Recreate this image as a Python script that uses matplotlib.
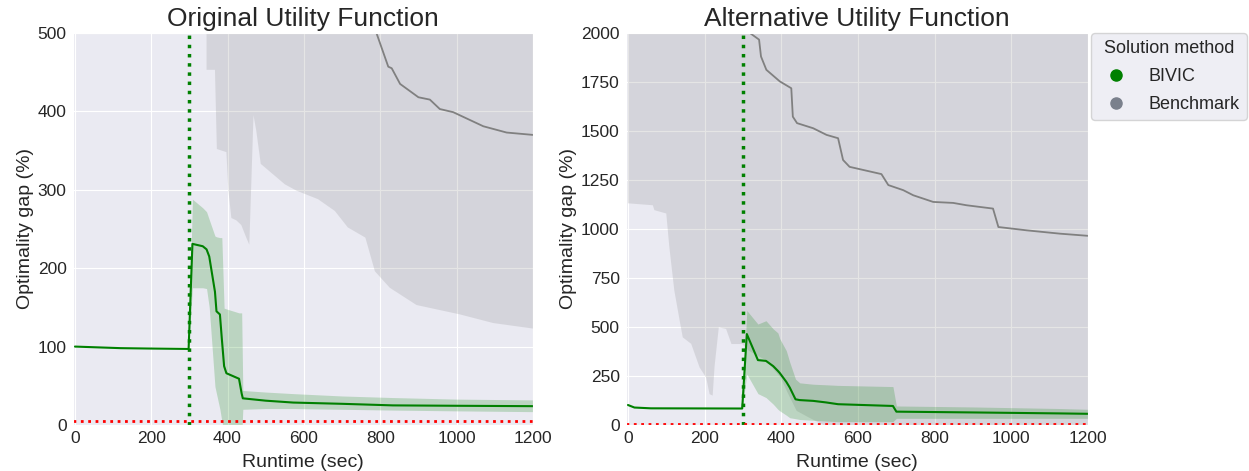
import matplotlib
matplotlib.use("Agg")
import matplotlib.pyplot as plt
from matplotlib.lines import Line2D
import seaborn as sns
import numpy as np

# ---------------- data: Original Utility Function ----------------
orig_bivic_t = [0, 60, 120, 200, 298, 308, 335, 345, 352, 367, 371, 380, 385, 391, 397, 430, 437, 440, 500, 572, 700, 833, 1000, 1200]
orig_bivic_mean = [100, 99, 98, 97.5, 97, 231, 228, 224, 215, 170, 145, 141, 110, 75, 66, 59, 40, 34, 31, 28.6, 27, 25, 24.5, 24]
orig_bivic_upper = [100, 99, 98, 97.5, 97, 288, 277, 272, 262, 241, 240, 239, 239, 149, 148, 143, 143, 44, 42, 40, 37, 35, 33, 32]
orig_bivic_lower = [100, 99, 98, 97.5, 97, 175, 175, 174, 150, 49, 40, 20, 5, -10, -15, -15, -15, 20, 21, 21, 20, 19, 18, 17]

orig_bench_band_t = [345, 367, 372, 397, 402, 410, 423, 436, 449, 457, 468, 475, 487, 550, 580, 637, 681, 715, 761, 786, 825, 895, 1009, 1096, 1200]
orig_bench_lower = [453, 453, 352, 348, 300, 264, 261, 255, 239, 230, 395, 376, 333, 307, 299, 288, 273, 252, 239, 196, 175, 153, 141, 130, 123]
orig_bench_upper = [3000, 3000, 2900, 2800, 2700, 2600, 2500, 2400, 2300, 2200, 2100, 2000, 1900, 1700, 1600, 1400, 1300, 1200, 1100, 1050, 1000, 900, 800, 700, 650]

orig_bench_t = [345, 400, 500, 600, 700, 790, 821, 830, 852, 900, 930, 956, 991, 1070, 1131, 1200]
orig_bench_mean = [1500, 1100, 800, 650, 560, 500, 457, 455, 435, 418, 415, 403, 399, 381, 373, 370]

# ---------------- data: Alternative Utility Function ----------------
alt_bivic_t = [0, 17, 60, 298, 310, 339, 360, 379, 391, 396, 413, 422, 437, 448, 483, 517, 548, 691, 700, 900, 1127, 1200]
alt_bivic_mean = [102, 89, 85, 84, 464, 331, 327, 300, 276, 265, 220, 191, 131, 127, 123, 115, 106, 97, 68, 64, 59, 57]
alt_bivic_upper = [102, 89, 85, 84, 584, 515, 532, 490, 470, 440, 379, 320, 234, 215, 208, 205, 202, 196, 97, 92, 84, 80]
alt_bivic_lower = [102, 89, 85, 84, 260, 160, 140, 106, 80, 72, 50, 37, 32, 28, 24, 20, 17, 17, 34, 34, 34, 34]

alt_bench_band_t = [0, 65, 69, 100, 108, 121, 135, 143, 165, 187, 204, 213, 221, 226, 237, 256, 270, 298, 315, 360, 398, 420, 440, 470, 510, 1200]
alt_bench_lower = [1131, 1121, 1096, 1079, 908, 686, 532, 447, 414, 293, 242, 157, 150, 300, 498, 490, 413, 413, 379, 330, 242, 150, 72, 40, 0, 0]
alt_bench_upper = [4000, 4000, 4000, 3900, 3900, 3800, 3800, 3700, 3700, 3600, 3600, 3500, 3500, 3500, 3400, 3400, 3300, 3300, 3200, 3100, 3000, 2900, 2800, 2700, 2600, 2000]

alt_bench_t = [0, 100, 200, 300, 318, 342, 347, 361, 396, 426, 430, 441, 483, 518, 548, 561, 578, 661, 679, 718, 744, 796, 848, 883, 952, 966, 1040, 1127, 1200]
alt_bench_mean = [2700, 2600, 2400, 2150, 2000, 1966, 1880, 1812, 1753, 1718, 1573, 1540, 1514, 1480, 1463, 1352, 1317, 1280, 1224, 1198, 1172, 1138, 1133, 1121, 1104, 1010, 993, 976, 965]

titles = ["Original Utility Function", "Alternative Utility Function"]
methods = ["BIVIC", "Benchmark"]
time_limit = 300
target_gap = 5

# ---------------- style ----------------
sns.set_style("darkgrid")
plt.rcParams['font.family'] = ['Liberation Sans', 'DejaVu Sans']

BIVIC_C = "green"
BENCH_C = "gray"

fig = plt.figure(figsize=(12.49, 4.71), dpi=100)
ax1 = fig.add_axes([0.0584, 0.0977, 0.3683, 0.8323])
ax2 = fig.add_axes([0.5012, 0.0977, 0.3700, 0.8323])

panels = [
    (ax1, orig_bivic_t, orig_bivic_mean, orig_bivic_lower, orig_bivic_upper,
     orig_bench_band_t, orig_bench_lower, orig_bench_upper, orig_bench_t, orig_bench_mean,
     500, np.arange(0, 501, 100)),
    (ax2, alt_bivic_t, alt_bivic_mean, alt_bivic_lower, alt_bivic_upper,
     alt_bench_band_t, alt_bench_lower, alt_bench_upper, alt_bench_t, alt_bench_mean,
     2000, np.arange(0, 2001, 250)),
]

for i, (ax, bt, bm, bl, bu, gt, gl, gu, gmt, gm, ymax, yticks) in enumerate(panels):
    ax.fill_between(gt, gl, gu, color=BENCH_C, alpha=0.2, linewidth=0)
    ax.plot(gmt, gm, color=BENCH_C, lw=1.3)
    ax.fill_between(bt, bl, bu, color=BIVIC_C, alpha=0.2, linewidth=0)
    ax.plot(bt, bm, color=BIVIC_C, lw=1.5)
    ax.axvline(time_limit, color="green", ls=":", lw=2.5)
    ax.axhline(target_gap, color="red", ls=":", lw=2)
    ax.set_xlim(-5, 1200)
    ax.set_ylim(0, ymax)
    ax.set_yticks(yticks)
    ax.set_xticks(np.arange(0, 1201, 200))
    ax.tick_params(labelsize=12.5, pad=1)
    ax.set_title(titles[i], fontsize=19, pad=5)
    ax.set_xlabel("Runtime (sec)", fontsize=14, labelpad=5.5)
    ax.set_ylabel("Optimality gap (%)", fontsize=14, labelpad=3)

handles = [Line2D([], [], color=BIVIC_C, marker='o', ls='', markersize=8),
           Line2D([], [], color="#7a808c", marker='o', ls='', markersize=8)]
ax2.legend(handles, methods, title="Solution method", loc="upper left",
           bbox_to_anchor=(1.006, 1.0), fontsize=13, title_fontsize=13,
           borderaxespad=0, labelspacing=0.6)

fig.savefig("out.png", dpi=100)
